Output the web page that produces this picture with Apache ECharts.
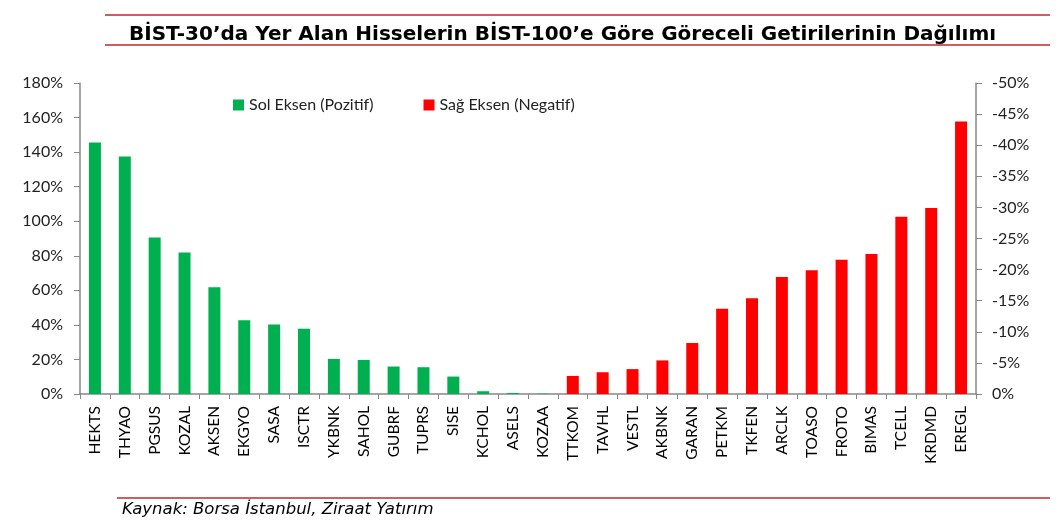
<!DOCTYPE html>
<html>
<head>
<meta charset="utf-8">
<script src="https://cdn.jsdelivr.net/npm/echarts@6/dist/echarts.min.js"></script>
<style>
html,body{margin:0;padding:0;background:#fff;}
#c{width:1057px;height:527px;}
</style>
</head>
<body>
<div id="c"></div>
<script>
const titleText = 'BİST-30’da Yer Alan Hisselerin BİST-100’e Göre Göreceli Getirilerinin Dağılımı';
const sourceText = 'Kaynak: Borsa İstanbul, Ziraat Yatırım';
const categories = ['HEKTS','THYAO','PGSUS','KOZAL','AKSEN','EKGYO','SASA','ISCTR','YKBNK','SAHOL','GUBRF','TUPRS','SISE','KCHOL','ASELS','KOZAA','TTKOM','TAVHL','VESTL','AKBNK','GARAN','PETKM','TKFEN','ARCLK','TOASO','FROTO','BIMAS','TCELL','KRDMD','EREGL'];
const positiveValues = [145.6,137.5,90.6,81.9,61.8,42.7,40.2,37.8,20.3,19.7,15.9,15.5,10.1,1.6,0.6,0.2,null,null,null,null,null,null,null,null,null,null,null,null,null,null];
const negativeValues = [null,null,null,null,null,null,null,null,null,null,null,null,null,null,null,null,-2.9,-3.5,-4.0,-5.4,-8.2,-13.7,-15.4,-18.8,-19.9,-21.6,-22.5,-28.5,-29.9,-43.8];
const seriesNames = ['Sol Eksen (Pozitif)','Sağ Eksen (Negatif)'];

const chart = echarts.init(document.getElementById('c'), null, {renderer:'canvas'});
const axisFont = 'Lato';
const lineColor = '#C0272D';
chart.setOption({
  animation:false,
  backgroundColor:'#fff',
  title:{
    text:titleText,
    left:124, top:20,
    textStyle:{fontFamily:'DejaVu Sans',fontWeight:'bold',fontSize:20,color:'#000'}
  },
  graphic:[
    {type:'line',shape:{x1:105,y1:15,x2:1050,y2:15},style:{stroke:lineColor,lineWidth:1.5}},
    {type:'line',shape:{x1:105,y1:45,x2:1050,y2:45},style:{stroke:lineColor,lineWidth:1.5}},
    {type:'line',shape:{x1:117,y1:498,x2:1050,y2:498},style:{stroke:lineColor,lineWidth:1.5}},
    {type:'text',left:122,top:501,style:{text:sourceText,font:'italic 16.5px "DejaVu Sans"',fill:'#000'}}
  ],
  legend:{
    left:228, top:92,
    itemWidth:11,itemHeight:11,itemGap:50,
    icon:'rect',
    textStyle:{fontFamily:axisFont,fontSize:16,color:'#222'},
    data:seriesNames
  },
  grid:{left:80,right:81,top:83,bottom:133},
  xAxis:{
    type:'category',
    data:categories,
    axisLine:{lineStyle:{color:'#888',width:1.5}},
    axisTick:{show:true,interval:0,length:5,lineStyle:{color:'#888'}},
    axisLabel:{interval:0,rotate:90,margin:12,fontFamily:axisFont,fontSize:15.5,color:'#000'}
  },
  yAxis:[
    {
      type:'value',min:0,max:180,interval:20,position:'left',
      axisLine:{show:true,lineStyle:{color:'#888',width:1.5}},
      axisTick:{show:true,length:6,lineStyle:{color:'#888'}},
      splitLine:{show:false},
      axisLabel:{formatter:'{value}%',margin:17,fontFamily:axisFont,fontSize:16,color:'#222'}
    },
    {
      type:'value',min:-50,max:0,interval:5,inverse:true,position:'right',
      axisLine:{show:true,lineStyle:{color:'#888',width:1.5}},
      axisTick:{show:true,length:6,lineStyle:{color:'#888'}},
      splitLine:{show:false},
      axisLabel:{formatter:'{value}%',margin:16,fontFamily:axisFont,fontSize:16,color:'#222'}
    }
  ],
  series:[
    {name:seriesNames[0],type:'bar',yAxisIndex:0,data:positiveValues,barWidth:12,barGap:'-100%',itemStyle:{color:'#00B050'}},
    {name:seriesNames[1],type:'bar',yAxisIndex:1,data:negativeValues,barWidth:12,barGap:'-100%',itemStyle:{color:'#FF0000'}}
  ]
});
</script>
</body>
</html>
